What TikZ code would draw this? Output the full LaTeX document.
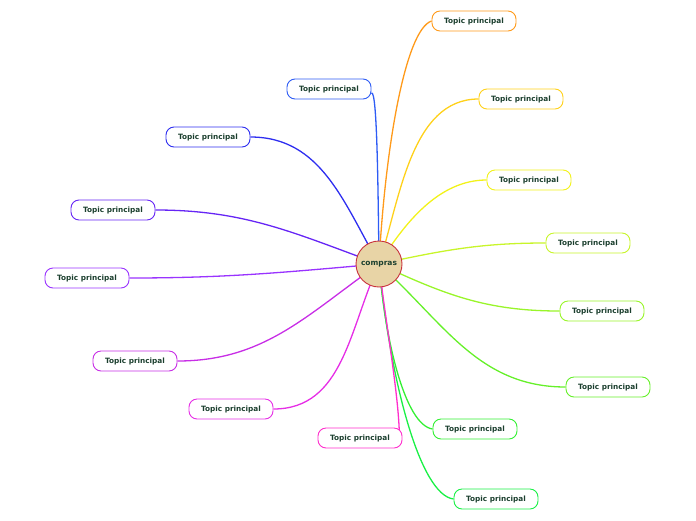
\documentclass[tikz,border=0pt]{standalone}
\usepackage{fontspec}
\setmainfont{DejaVu Sans}
\usetikzlibrary{backgrounds}
\definecolor{txt}{HTML}{1B3F2E}
\definecolor{cfill}{HTML}{E8D4A6}
\definecolor{cline}{HTML}{C8323C}
\definecolor{k1}{HTML}{FF9A1A}
\definecolor{k2}{HTML}{FFD11A}
\definecolor{k3}{HTML}{F2F21A}
\definecolor{k4}{HTML}{C8F52A}
\definecolor{k5}{HTML}{99F52A}
\definecolor{k6}{HTML}{66F02A}
\definecolor{k7}{HTML}{33F033}
\definecolor{k8}{HTML}{1AF046}
\definecolor{k9}{HTML}{FF2ECC}
\definecolor{k10}{HTML}{E62EE6}
\definecolor{k11}{HTML}{C82EE6}
\definecolor{k12}{HTML}{9933FF}
\definecolor{k13}{HTML}{6625F5}
\definecolor{k14}{HTML}{2E2EF0}
\definecolor{k15}{HTML}{2E5CF5}
\tikzset{
  topicbox/.style={draw=#1, line width=0.9pt, fill=white, rounded corners=8pt,
    minimum width=84pt, minimum height=20pt, inner sep=0pt,
    font=\fontsize{7.3}{8}\selectfont\bfseries, text=txt},
  conn/.style={draw=#1, line width=1.3pt},
  central/.style={circle, draw=cline, line width=0.9pt, fill=cfill, minimum size=46pt,
    inner sep=0pt, font=\fontsize{7.5}{9}\selectfont\bfseries, text=txt}
}
\begin{document}
\begin{tikzpicture}[x=1pt,y=-1pt]
\useasboundingbox (0,0) rectangle (696,520);
\node[central] (c) at (379,264) {compras};
\node[topicbox=k1] (n1) at (474,21) {Topic principal};
\node[topicbox=k2] (n2) at (521,99) {Topic principal};
\node[topicbox=k3] (n3) at (529,180) {Topic principal};
\node[topicbox=k4] (n4) at (588,243) {Topic principal};
\node[topicbox=k5] (n5) at (602,311) {Topic principal};
\node[topicbox=k6] (n6) at (608,387) {Topic principal};
\node[topicbox=k7] (n7) at (475,429) {Topic principal};
\node[topicbox=k8] (n8) at (496,499) {Topic principal};
\node[topicbox=k9] (n9) at (360,438) {Topic principal};
\node[topicbox=k10] (n10) at (231,409) {Topic principal};
\node[topicbox=k11] (n11) at (135,361) {Topic principal};
\node[topicbox=k12] (n12) at (87,278) {Topic principal};
\node[topicbox=k13] (n13) at (113,210) {Topic principal};
\node[topicbox=k14] (n14) at (208,137) {Topic principal};
\node[topicbox=k15] (n15) at (329,89) {Topic principal};
\begin{scope}[on background layer]
\draw[conn=k1] (c.center) .. controls (385,150) and (405,30) .. (n1.west);
\draw[conn=k2] (c.center) to[out=72,in=180,looseness=0.9] (n2.west);
\draw[conn=k3] (c.center) to[out=58,in=180,looseness=0.9] (n3.west);
\draw[conn=k4] (c.center) to[out=12,in=180] (n4.west);
\draw[conn=k5] (c.center) to[out=-25,in=180] (n5.west);
\draw[conn=k6] (c.center) to[out=-42,in=180] (n6.west);
\draw[conn=k7] (c.center) .. controls (385,340) and (405,425) .. (n7.west);
\draw[conn=k8] (c.center) .. controls (390,380) and (420,495) .. (n8.west);
\draw[conn=k9] (c.center) .. controls (385,320) and (400,400) .. ([xshift=-3pt,yshift=-4pt]n9.east);
\draw[conn=k10] (c.center) to[out=-115,in=0] (n10.east);
\draw[conn=k11] (c.center) to[out=-145,in=0] (n11.east);
\draw[conn=k12] (c.center) to[out=-175,in=0] (n12.east);
\draw[conn=k13] (c.center) to[out=160,in=0] (n13.east);
\draw[conn=k14] (c.center) to[out=120,in=0] (n14.east);
\draw[conn=k15] (c.center) .. controls (378,180) and (377,90) .. ([yshift=-4pt]n15.east);
\end{scope}
\end{tikzpicture}
\end{document}
